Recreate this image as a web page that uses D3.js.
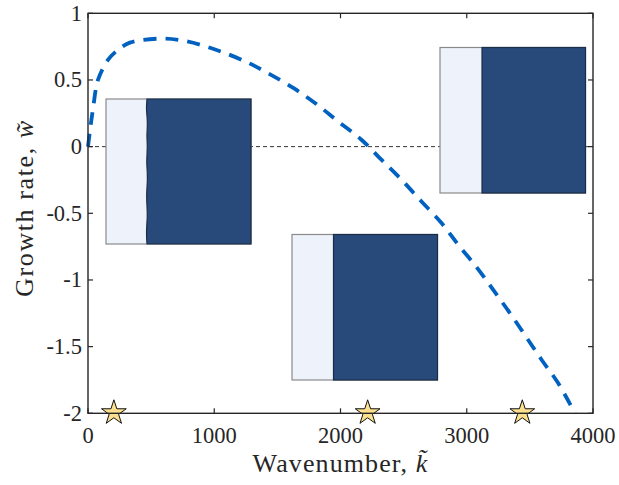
<!DOCTYPE html>
<html>
<head>
<meta charset="utf-8">
<script src="https://cdn.jsdelivr.net/npm/d3@7"></script>
<style>
  body { margin: 0; background: #fff; }
  text { font-family: "Liberation Serif", "DejaVu Serif", serif; fill: #262626; }
</style>
</head>
<body>
<div id="chart"></div>
<script>
// growth rate curve
var kVals = [0, 20, 42, 79, 158, 230, 332, 585, 781, 1018, 1256, 1428, 1626, 1811, 1983, 2168, 2326, 2485, 2640, 2802, 2933, 3079, 3210, 3343, 3469, 3594, 3725, 3857]
var wVals = [0, 0.15, 0.3, 0.5, 0.65, 0.72, 0.78, 0.81, 0.79, 0.725, 0.635, 0.55, 0.44, 0.318, 0.1875, 0.05, -0.1, -0.25, -0.41, -0.575, -0.737, -0.905, -1.075, -1.25, -1.425, -1.6, -1.775, -2]

// stars marking the three snapshots
var starK = [205, 2215, 3440]
var starW = [-2, -2, -2]

var xTicks = [0, 1000, 2000, 3000, 4000]
var yTicks = [-2, -1.5, -1, -0.5, 0, 0.5, 1]

var WIDTH = 619
var HEIGHT = 485
var LEFT = 88, RIGHT = 593, TOP = 13.3, BOTTOM = 413.3

var svg = d3.select('#chart').append('svg')
  .attr('width', WIDTH)
  .attr('height', HEIGHT)

var x = d3.scaleLinear().domain([0, 4000]).range([LEFT, RIGHT])
var y = d3.scaleLinear().domain([-2, 1]).range([BOTTOM, TOP])

// zero line
svg.append('line')
  .attr('x1', x(0)).attr('x2', x(4000))
  .attr('y1', y(0)).attr('y2', y(0))
  .attr('stroke', '#333').attr('stroke-width', 1)
  .attr('stroke-dasharray', '4,3')

// growth curve
var line = d3.line()
  .x(function (d, i) { return x(kVals[i]) })
  .y(function (d, i) { return y(wVals[i]) })
  .curve(d3.curveCatmullRom.alpha(0.5))

svg.append('path')
  .datum(kVals)
  .attr('d', line)
  .attr('fill', 'none')
  .attr('stroke', '#0061c0')
  .attr('stroke-width', 3.8)
  .attr('stroke-dasharray', '13,9')

// insets (pixel layout: left, top, size, light width)
var insets = [
  {x: 106, y: 99, s: 145, light: 41, wavy: true},
  {x: 440, y: 47.5, s: 145.5, light: 42, wavy: false},
  {x: 292, y: 234.5, s: 145.5, light: 41.5, wavy: false}
]
// interface wiggle for the unstable case, px offsets top to bottom
var wiggle = [0, -0.8, 0.2, 0.5, -0.3, 0.4, 0.1, -0.4, 0.3, 0.5, -0.2, -0.4, 0.1, 0.4, -0.3, -0.6, 0]

insets.forEach(function (ins) {
  var g = svg.append('g')
  g.append('rect')
    .attr('x', ins.x).attr('y', ins.y)
    .attr('width', ins.s).attr('height', ins.s)
    .attr('fill', '#eef3fb')
    .attr('stroke', '#8a8a8a').attr('stroke-width', 1.2)
  if (ins.wavy) {
    var pts = wiggle.map(function (d, i) {
      return [ins.x + ins.light + d, ins.y + i * ins.s / (wiggle.length - 1)]
    })
    var p = d3.line().curve(d3.curveBasis)(pts)
    g.append('path')
      .attr('d', p + 'L' + (ins.x + ins.s) + ',' + (ins.y + ins.s) + 'L' + (ins.x + ins.s) + ',' + ins.y + 'Z')
      .attr('fill', '#274a7a')
      .attr('stroke', '#1b2d47').attr('stroke-width', 1.2)
  } else {
    g.append('rect')
      .attr('x', ins.x + ins.light).attr('y', ins.y)
      .attr('width', ins.s - ins.light).attr('height', ins.s)
      .attr('fill', '#274a7a')
      .attr('stroke', '#1b2d47').attr('stroke-width', 1.2)
  }
})

// stars
var star = d3.symbol().type(d3.symbolStar).size(190)
svg.selectAll('.star')
  .data(starK)
  .enter().append('path')
  .attr('class', 'star')
  .attr('d', star)
  .attr('transform', function (d, i) { return 'translate(' + x(d) + ',' + (y(starW[i]) - 0.5) + ')' })
  .attr('fill', '#fde08e')
  .attr('stroke', '#111')
  .attr('stroke-width', 1)

// axes box with inward ticks
var axColor = '#262626'
var TICK = 5
var axes = svg.append('g')
axes.append('rect')
  .attr('x', LEFT).attr('y', TOP)
  .attr('width', RIGHT - LEFT).attr('height', BOTTOM - TOP)
  .attr('fill', 'none').attr('stroke', axColor).attr('stroke-width', 1.4)

xTicks.forEach(function (t) {
  axes.append('line').attr('x1', x(t)).attr('x2', x(t)).attr('y1', BOTTOM).attr('y2', BOTTOM - TICK)
    .attr('stroke', axColor).attr('stroke-width', 1.2)
  axes.append('line').attr('x1', x(t)).attr('x2', x(t)).attr('y1', TOP).attr('y2', TOP + TICK)
    .attr('stroke', axColor).attr('stroke-width', 1.2)
  axes.append('text')
    .attr('x', x(t)).attr('y', BOTTOM + 30)
    .attr('text-anchor', 'middle')
    .style('font-size', '22.5px')
    .text(t)
})

yTicks.forEach(function (t) {
  axes.append('line').attr('x1', LEFT).attr('x2', LEFT + TICK).attr('y1', y(t)).attr('y2', y(t))
    .attr('stroke', axColor).attr('stroke-width', 1.2)
  axes.append('line').attr('x1', RIGHT).attr('x2', RIGHT - TICK).attr('y1', y(t)).attr('y2', y(t))
    .attr('stroke', axColor).attr('stroke-width', 1.2)
  axes.append('text')
    .attr('x', LEFT - 6).attr('y', y(t) + 7.5)
    .attr('text-anchor', 'end')
    .style('font-size', '22.5px')
    .text(t)
})

// axis labels
var xl = svg.append('text')
  .attr('x', (LEFT + RIGHT) / 2).attr('y', 472)
  .attr('text-anchor', 'middle')
  .style('font-size', '26px')
  .style('letter-spacing', '1.1px')
xl.append('tspan').text('Wavenumber, ')
xl.append('tspan').style('font-style', 'italic').text('k\u0303')

var yl = svg.append('text')
  .attr('transform', 'translate(33,208) rotate(-90)')
  .attr('text-anchor', 'middle')
  .style('font-size', '26px')
  .style('letter-spacing', '1.6px')
yl.append('tspan').text('Growth rate, ')
yl.append('tspan').style('font-style', 'italic').text('w\u0303')
</script>
</body>
</html>
